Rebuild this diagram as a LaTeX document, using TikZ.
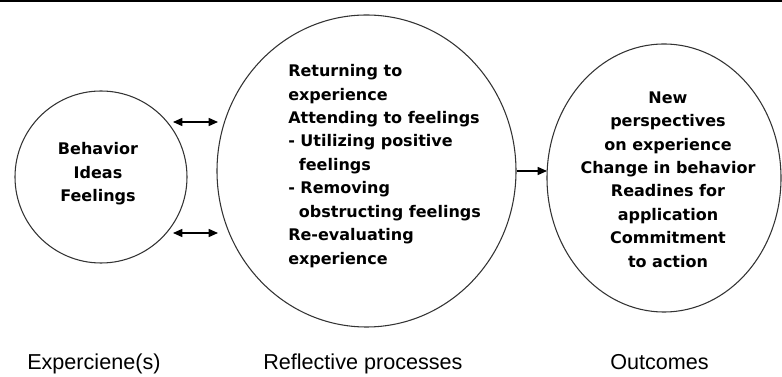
\documentclass[tikz,border=0pt]{standalone}
\usepackage{fontspec}
\setmainfont{Liberation Sans}
\newfontfamily\circfont{DejaVu Sans}
\usetikzlibrary{shapes.geometric,arrows.meta}
\begin{document}
\begin{tikzpicture}[x=0.75pt,y=-0.75pt,
  stage/.style={draw=black!80,line width=0.8pt,ellipse,inner sep=0pt},
  circtext/.style={font=\circfont\bfseries\fontsize{12pt}{17.6pt}\selectfont,inner sep=0pt},
  caption/.style={font=\fontsize{16.2pt}{19pt}\selectfont,anchor=base west,inner sep=0pt},
  tip/.style={Triangle[length=7pt,width=6pt]},
  twoway/.style={line width=1.1pt,{Triangle[length=7pt,width=6pt]}-{Triangle[length=7pt,width=6pt]}},
  oneway/.style={line width=1.1pt,-{Triangle[length=7pt,width=6pt]}}]
\useasboundingbox (0,0) rectangle (782,377);

% top rule
\draw[line width=1.5pt] (0,1) -- (782,1);

% the three stages
\node[stage,minimum width=129pt,minimum height=129pt] (exp) at (101,177) {};
\node[stage,minimum width=224.25pt,minimum height=234pt] (refl) at (366.5,171) {};
\node[stage,minimum width=175.5pt,minimum height=201pt] (outc) at (664,178) {};

% stage contents
\node[circtext,align=center] (exptxt) at (98,174) {Behavior\\Ideas\\Feelings};
\node[circtext,align=left,anchor=west] (refltxt) at (288,166) {Returning to\\experience\\Attending to feelings\\- Utilizing positive\\\hspace*{8pt}feelings\\- Removing\\\hspace*{8pt}obstructing feelings\\Re-evaluating\\experience};
\node[circtext,align=center] (outctxt) at (668,179.5) {New\\perspectives\\on experience\\Change in behavior\\Readines for\\application\\Commitment\\to action};

% connectors
\coordinate (upA) at (173,122);
\coordinate (upB) at (218,122);
\coordinate (loA) at (173,233);
\coordinate (loB) at (218,233);
\draw[twoway] (upA) -- (upB);
\draw[twoway] (loA) -- (loB);
\coordinate (outA) at (refl.east);
\coordinate (outB) at (547,171);
\draw[oneway] (outA) -- (outB);

% captions
\node[caption] (capexp) at (27,370) {Experciene(s)};
\node[caption] (caprefl) at (263,370) {Reflective processes};
\node[caption] (capoutc) at (610,370) {Outcomes};
\end{tikzpicture}
\end{document}
